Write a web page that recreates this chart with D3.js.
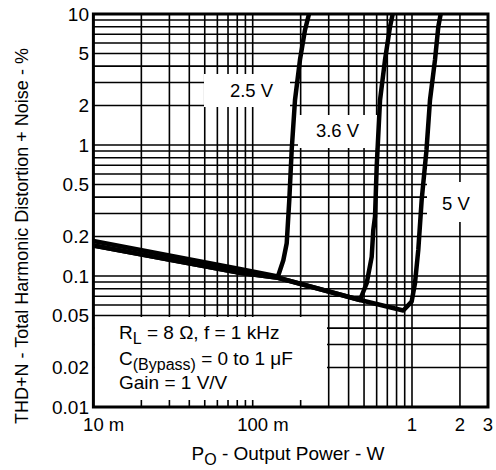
<!DOCTYPE html>
<html><head><meta charset="utf-8">
<script src="https://cdn.jsdelivr.net/npm/d3@7"></script>
<style>body{margin:0;background:#fff}svg{display:block}text{font-family:"Liberation Sans",Arial,sans-serif;fill:#000}</style>
</head><body>
<svg id="c" width="496" height="470"></svg>
<script>
// ---- data ----
const xTickValues = [0.01, 0.1, 1, 2, 3];
const xTickLabels = ["10 m", "100 m", "1", "2", "3"];
const yTickValues = [10, 5, 2, 1, 0.5, 0.2, 0.1, 0.05, 0.02, 0.01];
const yTickLabels = ["10", "5", "2", "1", "0.5", "0.2", "0.1", "0.05", "0.02", "0.01"];
const seriesNames = ["2.5 V", "3.6 V", "5 V"];
const p25  = [0.01, 0.083, 0.144, 0.1557, 0.1635, 0.1697, 0.1757, 0.1843, 0.198, 0.213, 0.2257];
const thd25 = [0.185, 0.113, 0.099, 0.132, 0.178, 0.38, 0.916, 2.2, 4.46, 7.55, 10];
const p36  = [0.01, 0.083, 0.144, 0.4717, 0.5195, 0.5585, 0.5715, 0.586, 0.6003, 0.63, 0.677, 0.728, 0.7566];
const thd36 = [0.171, 0.106, 0.097, 0.0656, 0.088, 0.14, 0.2245, 0.284, 0.683, 2.2, 4.46, 8.0, 10];
const p5   = [0.01, 0.083, 0.144, 0.4717, 0.882, 0.995, 1.044, 1.095, 1.15, 1.233, 1.297, 1.394, 1.463, 1.514];
const thd5  = [0.171, 0.106, 0.097, 0.0656, 0.0545, 0.0637, 0.088, 0.158, 0.38, 0.916, 2.2, 4.46, 8.0, 10];
const xGridValues = [0.02,0.03,0.04,0.05,0.06,0.07,0.08,0.09,0.1,0.2,0.3,0.4,0.5,0.6,0.7,0.8,0.9,1,2];
const yGridValues = [0.02,0.03,0.04,0.05,0.06,0.07,0.08,0.09,0.1,0.2,0.3,0.4,0.5,0.6,0.7,0.8,0.9,1,2,3,4,5,6,7,8,9];
const legendLines = [["R","L"," = 8 Ω, f = 1 kHz"],["C","(Bypass)"," = 0 to 1 μF"],["Gain = 1 V/V","",""]];

// ---- layout ----
const L = 93.4, R = 488, T = 14, B = 407;
const x = d3.scaleLog().domain([0.01, 3]).range([L, R]);
const y = d3.scaleLog().domain([0.01, 10]).range([B, T]);
const svg = d3.select("#c");
const legBox = {x0: L, x1: 327, y0: 317};

const g = svg.append("g");
// vertical grid
xGridValues.forEach(v => {
  const px = x(v);
  if (px > legBox.x1) {
    g.append("line").attr("x1", px).attr("x2", px).attr("y1", T).attr("y2", B);
  } else {
    g.append("line").attr("x1", px).attr("x2", px).attr("y1", T).attr("y2", legBox.y0);
    g.append("line").attr("x1", px).attr("x2", px).attr("y1", B - 7).attr("y2", B);
  }
});
// horizontal grid
yGridValues.forEach(v => {
  const py = y(v);
  if (py < legBox.y0) {
    g.append("line").attr("x1", L).attr("x2", R).attr("y1", py).attr("y2", py);
  } else {
    g.append("line").attr("x1", legBox.x1).attr("x2", R).attr("y1", py).attr("y2", py);
    g.append("line").attr("x1", L).attr("x2", L + 8).attr("y1", py).attr("y2", py);
  }
});
g.selectAll("line").attr("stroke", "#000").attr("stroke-width", 1.6);

// white boxes
svg.append("rect").attr("x", legBox.x0 + 1).attr("y", legBox.y0).attr("width", legBox.x1 - legBox.x0 - 1).attr("height", B - legBox.y0 - 8).attr("fill", "#fff");
const labelBoxes = [
  {x0: 204, x1: 290, y0: 74, y1: 107, tx: 251.5, ty: 97},
  {x0: 298, x1: 377, y0: 115, y1: 148, tx: 337.5, ty: 137},
  {x0: 427, x1: 487, y0: 182, y1: 222, tx: 456, ty: 210}
];
labelBoxes.forEach((b, i) => {
  svg.append("rect").attr("x", b.x0).attr("y", b.y0).attr("width", b.x1 - b.x0).attr("height", b.y1 - b.y0).attr("fill", "#fff");
});

// curves
svg.append("clipPath").attr("id", "pc").append("rect").attr("x", L).attr("y", T).attr("width", R - L).attr("height", B - T);
const line = d3.line().x(d => x(d[0])).y(d => y(d[1]));
[[p25, thd25], [p36, thd36], [p5, thd5]].forEach(([ps, ts]) => {
  svg.append("path").datum(ps.map((p, i) => [p, ts[i]]))
    .attr("d", line).attr("fill", "none").attr("stroke", "#000").attr("stroke-width", 4.5)
    .attr("stroke-linejoin", "round").attr("clip-path", "url(#pc)");
});

// series labels
labelBoxes.forEach((b, i) => {
  svg.append("text").attr("x", b.tx).attr("y", b.ty).attr("text-anchor", "middle").attr("font-size", 18.5).text(seriesNames[i]);
});

// frame
svg.append("rect").attr("x", L).attr("y", T).attr("width", R - L).attr("height", B - T).attr("fill", "none").attr("stroke", "#000").attr("stroke-width", 3);

// y tick labels
yTickValues.forEach((v, i) => {
  svg.append("text").attr("x", 89).attr("y", y(v) + 6.5).attr("text-anchor", "end").attr("font-size", 19).text(yTickLabels[i]);
});
// x tick labels: number part centred on tick
xTickValues.forEach((v, i) => {
  const parts = xTickLabels[i].split(" ");
  const t = svg.append("text").attr("y", 431).attr("font-size", 18.5);
  const num = t.append("tspan").text(parts[0]);
  const w = num.node().getComputedTextLength();
  if (parts[1]) t.append("tspan").text(" " + parts[1]);
  t.attr("x", x(v) - w / 2);
});

// legend text
const ly = [339, 365, 389];
legendLines.forEach((ln, i) => {
  const t = svg.append("text").attr("x", 119).attr("y", ly[i]).attr("font-size", 19);
  t.append("tspan").text(ln[0]);
  if (ln[1]) {
    t.append("tspan").attr("dy", 5).attr("font-size", 16).text(ln[1]);
    t.append("tspan").attr("dy", -5).text(ln[2]);
  }
});

// axis titles
const xt = svg.append("text").attr("x", 288).attr("y", 460).attr("text-anchor", "middle").attr("font-size", 19);
xt.append("tspan").text("P");
xt.append("tspan").attr("dy", 5).attr("font-size", 16).text("O");
xt.append("tspan").attr("dy", -5).text(" - Output Power - W");
svg.append("text").attr("transform", "translate(28,236) rotate(-90)").attr("text-anchor", "middle").attr("font-size", 18)
  .text("THD+N - Total Harmonic Distortion + Noise - %");
</script>
</body></html>
